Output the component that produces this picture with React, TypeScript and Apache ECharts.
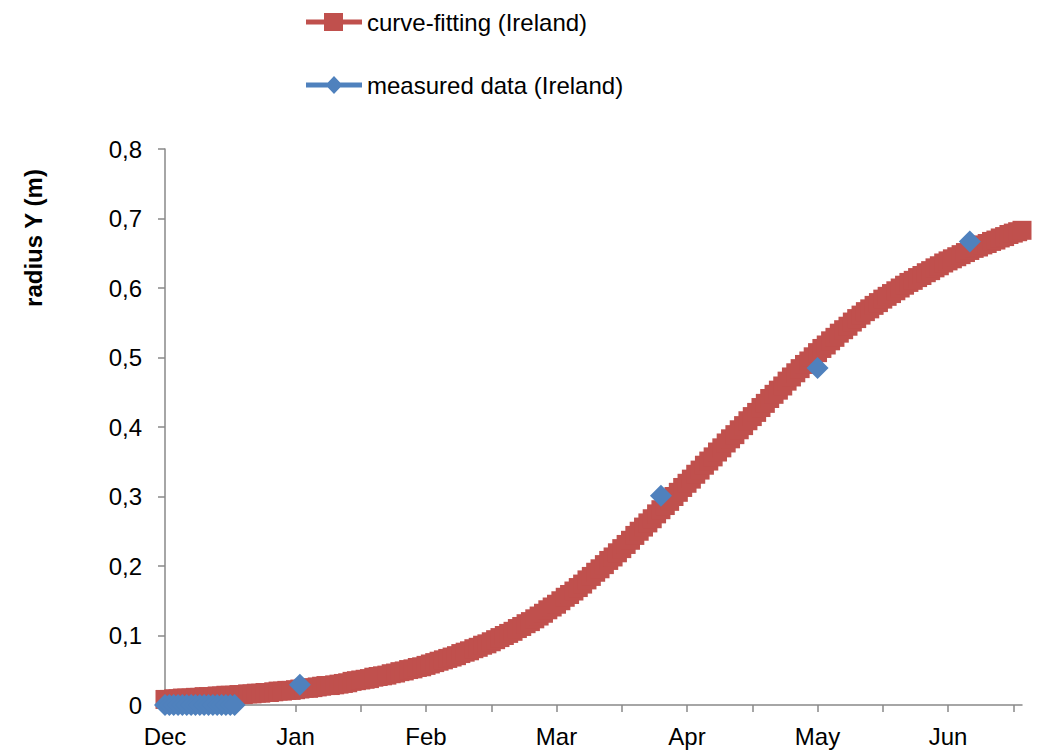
import React, { useEffect, useRef } from "react";
import * as echarts from "echarts";

// Curve-fitting values, one per day starting at Dec (day 0)
const curveY: number[] = [
  0.008, 0.008, 0.009, 0.009, 0.010, 0.010, 0.010, 0.011, 0.011, 0.012,
  0.012, 0.012, 0.013, 0.013, 0.014, 0.014, 0.014, 0.015, 0.015, 0.016,
  0.016, 0.017, 0.017, 0.018, 0.018, 0.019, 0.020, 0.020, 0.021, 0.021,
  0.022, 0.023, 0.024, 0.024, 0.025, 0.026, 0.027, 0.028, 0.028, 0.029,
  0.030, 0.031, 0.032, 0.034, 0.035, 0.036, 0.037, 0.038, 0.040, 0.041,
  0.042, 0.043, 0.045, 0.046, 0.048, 0.049, 0.051, 0.052, 0.054, 0.055,
  0.057, 0.059, 0.061, 0.063, 0.065, 0.067, 0.069, 0.071, 0.074, 0.076,
  0.078, 0.081, 0.083, 0.086, 0.088, 0.091, 0.094, 0.097, 0.100, 0.103,
  0.106, 0.110, 0.113, 0.117, 0.120, 0.124, 0.128, 0.132, 0.137, 0.141,
  0.145, 0.150, 0.155, 0.159, 0.164, 0.169, 0.174, 0.180, 0.185, 0.191,
  0.196, 0.202, 0.208, 0.213, 0.219, 0.225, 0.231, 0.237, 0.244, 0.250,
  0.256, 0.262, 0.268, 0.275, 0.281, 0.287, 0.293, 0.300, 0.306, 0.313,
  0.319, 0.325, 0.332, 0.338, 0.345, 0.351, 0.357, 0.364, 0.370, 0.377,
  0.383, 0.389, 0.396, 0.402, 0.409, 0.415, 0.421, 0.428, 0.434, 0.441,
  0.447, 0.453, 0.459, 0.466, 0.472, 0.478, 0.484, 0.490, 0.495, 0.501,
  0.507, 0.513, 0.518, 0.524, 0.529, 0.535, 0.540, 0.545, 0.551, 0.556,
  0.561, 0.566, 0.570, 0.575, 0.579, 0.584, 0.588, 0.592, 0.596, 0.600,
  0.604, 0.608, 0.611, 0.615, 0.618, 0.622, 0.625, 0.629, 0.632, 0.636,
  0.639, 0.642, 0.645, 0.648, 0.651, 0.654, 0.657, 0.659, 0.662, 0.664,
  0.667, 0.669, 0.672, 0.674, 0.677, 0.679, 0.681, 0.683,
];

const measuredDays: number[] = [
  0, 1, 2, 3, 4, 5, 6, 7, 8, 9, 10, 11, 12, 13, 14, 15, 16, 31, 114, 150, 185,
];
const measuredY: number[] = [
  0, 0, 0, 0, 0, 0, 0, 0, 0, 0, 0, 0, 0, 0, 0, 0, 0, 0.029, 0.301, 0.485, 0.667,
];

const monthLabels: string[] = ["Dec", "Jan", "Feb", "Mar", "Apr", "May", "Jun"];
const monthDays: number[] = [0, 30, 60, 90, 120, 150, 180];
const tickDays: number[] = [15, 30, 45, 60, 75, 90, 105, 120, 135, 150, 165, 180, 195];

const seriesNames = ["curve-fitting (Ireland)", "measured data (Ireland)"];
const RED = "#C0504D";
const BLUE = "#4F81BD";
const FONT = "'Liberation Sans', Arial, sans-serif";

export default function App() {
  const ref = useRef<HTMLDivElement>(null);

  useEffect(() => {
    document.body.style.margin = "0";
    if (!ref.current) return;
    const chart = echarts.init(ref.current, null, { renderer: "svg" });
    const curveData = curveY.map((v, i) => [i, v]);
    const measuredData = measuredDays.map((d, i) => [d, measuredY[i]]);

    chart.setOption({
      animation: false,
      backgroundColor: "#fff",
      textStyle: { fontFamily: FONT },
      grid: { left: 165, right: 17, top: 149, bottom: 50 },
      legend: [
        {
          data: [seriesNames[0]],
          left: 301,
          top: 5,
          itemWidth: 56,
          itemHeight: 18,
          icon: "path://M0,6.5H18V0H37V6.5H56V11.5H37V18H18V11.5H0Z",
          textStyle: { fontSize: 24, color: "#000", fontFamily: FONT },
          selectedMode: false,
        },
        {
          data: [seriesNames[1]],
          left: 301,
          top: 68,
          itemWidth: 56,
          itemHeight: 18,
          icon: "path://M0,6.5H21.86L28,0L34.14,6.5H56V11.5H34.14L28,18L21.86,11.5H0Z",
          textStyle: { fontSize: 24, color: "#000", fontFamily: FONT },
          selectedMode: false,
        },
      ],
      xAxis: {
        type: "value",
        min: 0,
        max: 197,
        interval: 15,
        splitLine: { show: false },
        axisLine: { lineStyle: { color: "#888", width: 1.5 } },
        axisTick: {
          show: true,
          length: 7,
          lineStyle: { color: "#888", width: 1.5 },
          customValues: tickDays,
        },
        axisLabel: {
          customValues: monthDays,
          formatter: (v: number) => {
            const idx = monthDays.indexOf(Math.round(v));
            return idx >= 0 ? monthLabels[idx] : "";
          },
          fontSize: 24,
          color: "#000",
          margin: 19,
          fontFamily: FONT,
        },
      },
      yAxis: {
        type: "value",
        min: 0,
        max: 0.8,
        interval: 0.1,
        splitLine: { show: false },
        axisLine: { show: true, lineStyle: { color: "#888", width: 1.5 } },
        axisTick: { show: true, length: 7, lineStyle: { color: "#888", width: 1.5 } },
        axisLabel: {
          formatter: (v: number) => (v === 0 ? "0" : v.toFixed(1).replace(".", ",")),
          fontSize: 24,
          color: "#000",
          margin: 23,
          fontFamily: FONT,
        },
      },
      graphic: [
        {
          type: "text",
          x: 33,
          y: 238,
          rotation: Math.PI / 2,
          style: {
            text: "radius Y (m)",
            font: "bold 24px 'Liberation Sans', Arial, sans-serif",
            fill: "#000",
            align: "center",
            verticalAlign: "middle",
          },
        },
      ],
      series: [
        {
          name: seriesNames[0],
          type: "line",
          data: curveData,
          symbol: "rect",
          symbolSize: 19,
          showSymbol: true,
          showAllSymbol: true,
          itemStyle: { color: RED, opacity: 1 },
          lineStyle: { color: RED, width: 3 },
          silent: true,
          z: 2,
        },
        {
          name: seriesNames[1],
          type: "scatter",
          data: measuredData,
          symbol: "diamond",
          symbolSize: 22,
          itemStyle: { color: BLUE, opacity: 1 },
          silent: true,
          z: 3,
        },
      ],
    });

    return () => chart.dispose();
  }, []);

  return (
    <div
      ref={ref}
      style={{ position: "absolute", left: 0, top: 0, width: 1039, height: 755 }}
    />
  );
}
